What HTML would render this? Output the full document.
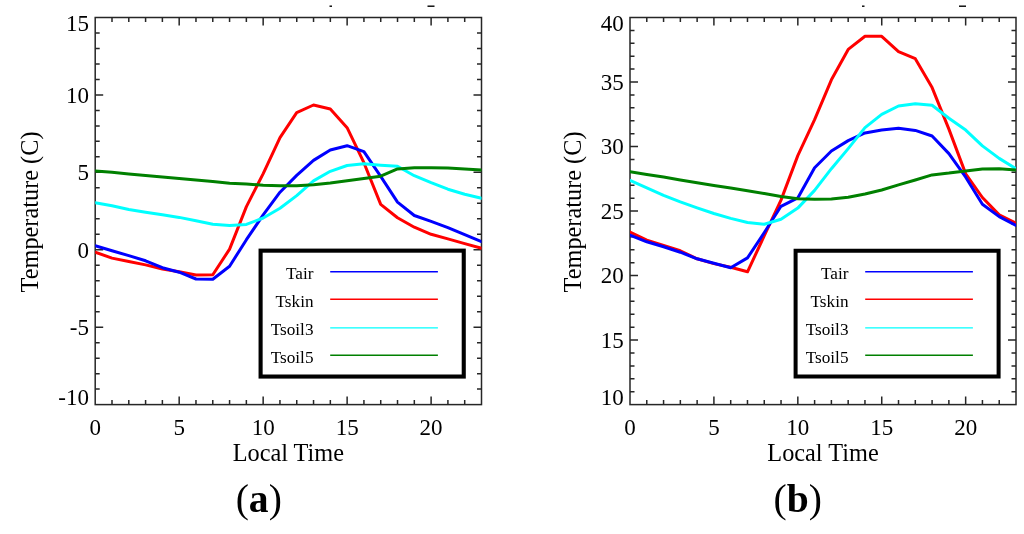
<!DOCTYPE html>
<html><head><meta charset="utf-8"><style>
html,body{margin:0;padding:0;background:#fff;}
body{width:1024px;height:534px;overflow:hidden;}
svg{display:block;font-family:"Liberation Serif",serif;will-change:transform;}
</style></head><body>
<svg width="1024" height="534" viewBox="0 0 1024 534">
<rect width="1024" height="534" fill="#fff"/>
<g stroke="#262626" stroke-width="1.5" fill="none">
<rect x="95.20" y="17.50" width="386.30" height="387.10"/>
<path d="M112.00 404.60v-4.5M112.00 17.50v4.5M128.79 404.60v-4.5M128.79 17.50v4.5M145.59 404.60v-4.5M145.59 17.50v4.5M162.38 404.60v-4.5M162.38 17.50v4.5M179.18 404.60v-8.0M179.18 17.50v8.0M195.97 404.60v-4.5M195.97 17.50v4.5M212.77 404.60v-4.5M212.77 17.50v4.5M229.57 404.60v-4.5M229.57 17.50v4.5M246.36 404.60v-4.5M246.36 17.50v4.5M263.16 404.60v-8.0M263.16 17.50v8.0M279.95 404.60v-4.5M279.95 17.50v4.5M296.75 404.60v-4.5M296.75 17.50v4.5M313.54 404.60v-4.5M313.54 17.50v4.5M330.34 404.60v-4.5M330.34 17.50v4.5M347.13 404.60v-8.0M347.13 17.50v8.0M363.93 404.60v-4.5M363.93 17.50v4.5M380.73 404.60v-4.5M380.73 17.50v4.5M397.52 404.60v-4.5M397.52 17.50v4.5M414.32 404.60v-4.5M414.32 17.50v4.5M431.11 404.60v-8.0M431.11 17.50v8.0M447.91 404.60v-4.5M447.91 17.50v4.5M464.70 404.60v-4.5M464.70 17.50v4.5M95.20 389.12h4.5M481.50 389.12h-4.5M95.20 373.63h4.5M481.50 373.63h-4.5M95.20 358.15h4.5M481.50 358.15h-4.5M95.20 342.66h4.5M481.50 342.66h-4.5M95.20 327.18h8.0M481.50 327.18h-8.0M95.20 311.70h4.5M481.50 311.70h-4.5M95.20 296.21h4.5M481.50 296.21h-4.5M95.20 280.73h4.5M481.50 280.73h-4.5M95.20 265.24h4.5M481.50 265.24h-4.5M95.20 249.76h8.0M481.50 249.76h-8.0M95.20 234.28h4.5M481.50 234.28h-4.5M95.20 218.79h4.5M481.50 218.79h-4.5M95.20 203.31h4.5M481.50 203.31h-4.5M95.20 187.82h4.5M481.50 187.82h-4.5M95.20 172.34h8.0M481.50 172.34h-8.0M95.20 156.86h4.5M481.50 156.86h-4.5M95.20 141.37h4.5M481.50 141.37h-4.5M95.20 125.89h4.5M481.50 125.89h-4.5M95.20 110.40h4.5M481.50 110.40h-4.5M95.20 94.92h8.0M481.50 94.92h-8.0M95.20 79.44h4.5M481.50 79.44h-4.5M95.20 63.95h4.5M481.50 63.95h-4.5M95.20 48.47h4.5M481.50 48.47h-4.5M95.20 32.98h4.5M481.50 32.98h-4.5"/>
</g>
<clipPath id="clipa"><rect x="95.20" y="17.50" width="386.30" height="387.10"/></clipPath>
<g clip-path="url(#clipa)" fill="none" stroke-width="3" stroke-linejoin="round" stroke-linecap="round">
<polyline stroke="#ff0000" points="95.2,252.2 112.0,258.1 128.8,261.5 145.6,264.9 162.4,269.0 179.2,271.7 196.0,275.0 212.8,274.8 229.6,249.1 246.4,206.6 263.2,173.6 280.0,137.7 296.7,112.6 313.5,105.0 330.3,109.0 347.1,127.7 363.9,162.7 380.7,204.4 397.5,217.7 414.3,227.2 431.1,234.3 447.9,238.9 464.7,243.6 481.5,248.2"/>
<polyline stroke="#0000ff" points="95.2,245.7 112.0,250.8 128.8,255.6 145.6,260.8 162.4,267.7 179.2,272.2 196.0,279.0 212.8,279.3 229.6,266.2 246.4,239.7 263.2,214.9 280.0,192.2 296.7,175.4 313.5,160.4 330.3,150.0 347.1,145.7 363.9,151.7 380.7,176.4 397.5,202.1 414.3,215.5 431.1,221.4 447.9,227.6 464.7,234.7 481.5,241.7"/>
<polyline stroke="#00ffff" points="95.2,202.7 112.0,205.8 128.8,209.5 145.6,212.3 162.4,214.8 179.2,217.4 196.0,220.8 212.8,224.2 229.6,225.6 246.4,224.4 263.2,218.0 280.0,208.3 296.7,195.6 313.5,180.9 330.3,171.3 347.1,165.5 363.9,163.8 380.7,165.2 397.5,166.3 414.3,175.7 431.1,182.7 447.9,189.2 464.7,194.2 481.5,198.2"/>
<polyline stroke="#008000" points="95.2,170.9 112.0,172.3 128.8,173.9 145.6,175.4 162.4,177.0 179.2,178.5 196.0,179.9 212.8,181.5 229.6,183.2 246.4,184.1 263.2,185.2 280.0,185.8 296.7,185.8 313.5,184.7 330.3,182.9 347.1,180.7 363.9,178.5 380.7,176.2 397.5,168.9 414.3,167.7 431.1,167.7 447.9,168.0 464.7,168.9 481.5,169.9"/>
</g>
<g font-size="23" fill="#000">
<text x="88.90" y="30.90" text-anchor="end">15</text>
<text x="88.90" y="102.72" text-anchor="end">10</text>
<text x="88.90" y="180.14" text-anchor="end">5</text>
<text x="88.90" y="257.56" text-anchor="end">0</text>
<text x="88.90" y="334.98" text-anchor="end">-5</text>
<text x="88.90" y="405.20" text-anchor="end">-10</text>
<text x="95.20" y="434.90" text-anchor="middle">0</text>
<text x="179.18" y="434.90" text-anchor="middle">5</text>
<text x="263.16" y="434.90" text-anchor="middle">10</text>
<text x="347.13" y="434.90" text-anchor="middle">15</text>
<text x="431.11" y="434.90" text-anchor="middle">20</text>
</g>
<text x="288.35" y="460.9" font-size="24.3" text-anchor="middle">Local Time</text>
<text transform="translate(38.00 211.95) rotate(-90)" font-size="24.3" text-anchor="middle">Temperature (C)</text>
<g>
<g font-size="17.2" text-anchor="end">
<text x="313.50" y="278.50">Tair</text>
<text x="313.50" y="306.80">Tskin</text>
<text x="313.50" y="334.80">Tsoil3</text>
<text x="313.50" y="363.20">Tsoil5</text>
</g>
<g stroke-width="1.4">
<line x1="330.20" x2="437.90" y1="271.70" y2="271.70" stroke="#0000ff"/>
<line x1="330.20" x2="437.90" y1="299.20" y2="299.20" stroke="#ff0000"/>
<line x1="330.20" x2="437.90" y1="327.90" y2="327.90" stroke="#00ffff"/>
<line x1="330.20" x2="437.90" y1="355.30" y2="355.30" stroke="#008000"/>
</g>
</g>
<text x="258.75" y="512.2" font-size="39.6" text-anchor="middle">(<tspan font-weight="bold">a</tspan>)</text>
<g stroke="#262626" stroke-width="1.5" fill="none">
<rect x="630.00" y="17.50" width="386.00" height="387.10"/>
<path d="M646.78 404.60v-4.5M646.78 17.50v4.5M663.57 404.60v-4.5M663.57 17.50v4.5M680.35 404.60v-4.5M680.35 17.50v4.5M697.13 404.60v-4.5M697.13 17.50v4.5M713.91 404.60v-8.0M713.91 17.50v8.0M730.70 404.60v-4.5M730.70 17.50v4.5M747.48 404.60v-4.5M747.48 17.50v4.5M764.26 404.60v-4.5M764.26 17.50v4.5M781.04 404.60v-4.5M781.04 17.50v4.5M797.83 404.60v-8.0M797.83 17.50v8.0M814.61 404.60v-4.5M814.61 17.50v4.5M831.39 404.60v-4.5M831.39 17.50v4.5M848.17 404.60v-4.5M848.17 17.50v4.5M864.96 404.60v-4.5M864.96 17.50v4.5M881.74 404.60v-8.0M881.74 17.50v8.0M898.52 404.60v-4.5M898.52 17.50v4.5M915.30 404.60v-4.5M915.30 17.50v4.5M932.09 404.60v-4.5M932.09 17.50v4.5M948.87 404.60v-4.5M948.87 17.50v4.5M965.65 404.60v-8.0M965.65 17.50v8.0M982.43 404.60v-4.5M982.43 17.50v4.5M999.22 404.60v-4.5M999.22 17.50v4.5M630.00 391.70h4.5M1016.00 391.70h-4.5M630.00 378.79h4.5M1016.00 378.79h-4.5M630.00 365.89h4.5M1016.00 365.89h-4.5M630.00 352.99h4.5M1016.00 352.99h-4.5M630.00 340.08h8.0M1016.00 340.08h-8.0M630.00 327.18h4.5M1016.00 327.18h-4.5M630.00 314.28h4.5M1016.00 314.28h-4.5M630.00 301.37h4.5M1016.00 301.37h-4.5M630.00 288.47h4.5M1016.00 288.47h-4.5M630.00 275.57h8.0M1016.00 275.57h-8.0M630.00 262.66h4.5M1016.00 262.66h-4.5M630.00 249.76h4.5M1016.00 249.76h-4.5M630.00 236.86h4.5M1016.00 236.86h-4.5M630.00 223.95h4.5M1016.00 223.95h-4.5M630.00 211.05h8.0M1016.00 211.05h-8.0M630.00 198.15h4.5M1016.00 198.15h-4.5M630.00 185.24h4.5M1016.00 185.24h-4.5M630.00 172.34h4.5M1016.00 172.34h-4.5M630.00 159.44h4.5M1016.00 159.44h-4.5M630.00 146.53h8.0M1016.00 146.53h-8.0M630.00 133.63h4.5M1016.00 133.63h-4.5M630.00 120.73h4.5M1016.00 120.73h-4.5M630.00 107.82h4.5M1016.00 107.82h-4.5M630.00 94.92h4.5M1016.00 94.92h-4.5M630.00 82.02h8.0M1016.00 82.02h-8.0M630.00 69.11h4.5M1016.00 69.11h-4.5M630.00 56.21h4.5M1016.00 56.21h-4.5M630.00 43.31h4.5M1016.00 43.31h-4.5M630.00 30.40h4.5M1016.00 30.40h-4.5"/>
</g>
<clipPath id="clipb"><rect x="630.00" y="17.50" width="386.00" height="387.10"/></clipPath>
<g clip-path="url(#clipb)" fill="none" stroke-width="3" stroke-linejoin="round" stroke-linecap="round">
<polyline stroke="#ff0000" points="630.0,232.1 646.8,240.2 663.6,245.5 680.3,250.8 697.1,258.8 713.9,263.6 730.7,267.3 747.5,271.8 764.3,235.7 781.0,200.1 797.8,155.6 814.6,119.7 831.4,79.8 848.2,49.4 865.0,36.3 881.7,36.3 898.5,51.6 915.3,58.7 932.1,87.6 948.9,129.1 965.7,173.9 982.4,197.5 999.2,214.9 1016.0,223.3"/>
<polyline stroke="#0000ff" points="630.0,235.1 646.8,241.8 663.6,246.8 680.3,252.2 697.1,258.8 713.9,263.3 730.7,267.8 747.5,257.9 764.3,232.5 781.0,206.3 797.8,197.9 814.6,167.8 831.4,151.0 848.2,140.6 865.0,132.9 881.7,129.9 898.5,128.3 915.3,130.4 932.1,136.0 948.9,153.6 965.7,177.2 982.4,204.2 999.2,216.6 1016.0,225.5"/>
<polyline stroke="#00ffff" points="630.0,180.3 646.8,187.8 663.6,195.3 680.3,201.9 697.1,207.8 713.9,213.5 730.7,218.4 747.5,222.5 764.3,224.2 781.0,219.3 797.8,208.1 814.6,190.4 831.4,168.7 848.2,148.6 865.0,127.6 881.7,114.4 898.5,106.0 915.3,103.7 932.1,105.2 948.9,118.3 965.7,130.1 982.4,145.9 999.2,158.4 1016.0,168.7"/>
<polyline stroke="#008000" points="630.0,171.7 646.8,174.4 663.6,177.1 680.3,180.0 697.1,182.7 713.9,185.4 730.7,188.1 747.5,190.8 764.3,193.6 781.0,196.5 797.8,198.8 814.6,199.3 831.4,199.0 848.2,197.2 865.0,194.0 881.7,190.0 898.5,184.9 915.3,180.0 932.1,174.9 948.9,173.1 965.7,170.9 982.4,169.1 999.2,168.7 1016.0,169.9"/>
</g>
<g font-size="23" fill="#000">
<text x="623.70" y="30.90" text-anchor="end">40</text>
<text x="623.70" y="89.82" text-anchor="end">35</text>
<text x="623.70" y="154.33" text-anchor="end">30</text>
<text x="623.70" y="218.85" text-anchor="end">25</text>
<text x="623.70" y="283.37" text-anchor="end">20</text>
<text x="623.70" y="347.88" text-anchor="end">15</text>
<text x="623.70" y="405.20" text-anchor="end">10</text>
<text x="630.00" y="434.90" text-anchor="middle">0</text>
<text x="713.91" y="434.90" text-anchor="middle">5</text>
<text x="797.83" y="434.90" text-anchor="middle">10</text>
<text x="881.74" y="434.90" text-anchor="middle">15</text>
<text x="965.65" y="434.90" text-anchor="middle">20</text>
</g>
<text x="823.00" y="460.9" font-size="24.3" text-anchor="middle">Local Time</text>
<text transform="translate(581.10 211.95) rotate(-90)" font-size="24.3" text-anchor="middle">Temperature (C)</text>
<g>
<g font-size="17.2" text-anchor="end">
<text x="848.50" y="278.50">Tair</text>
<text x="848.50" y="306.80">Tskin</text>
<text x="848.50" y="334.80">Tsoil3</text>
<text x="848.50" y="363.20">Tsoil5</text>
</g>
<g stroke-width="1.4">
<line x1="865.20" x2="972.90" y1="271.70" y2="271.70" stroke="#0000ff"/>
<line x1="865.20" x2="972.90" y1="299.20" y2="299.20" stroke="#ff0000"/>
<line x1="865.20" x2="972.90" y1="327.90" y2="327.90" stroke="#00ffff"/>
<line x1="865.20" x2="972.90" y1="355.30" y2="355.30" stroke="#008000"/>
</g>
</g>
<text x="797.80" y="512.2" font-size="39.6" text-anchor="middle">(<tspan font-weight="bold">b</tspan>)</text>
<rect x="260.6" y="250.65" width="203.15" height="125.9" fill="none" stroke="#000" stroke-width="4.1"/>
<path d="M795.6 250.65H998.6V376.5H795.6Z" fill="none" stroke="#000" stroke-width="4"/>
<g fill="#000"><rect x="329.5" y="5.5" width="2.5" height="1.4"/><rect x="427.5" y="5.5" width="7" height="1.4"/><rect x="862" y="5.5" width="2.5" height="1.4"/><rect x="959" y="5.5" width="7" height="1.4"/></g>
</svg>
</body></html>
